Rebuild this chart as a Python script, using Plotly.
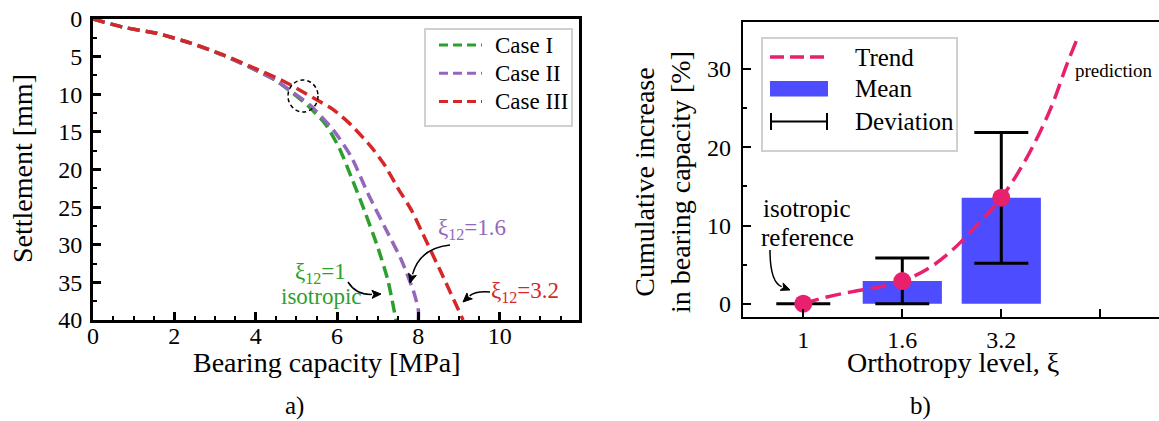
import plotly.graph_objects as go
import math

# ---------------- data ----------------
# (a) settlement curves
case1_bearing = [0, 0.75, 1.57, 2.4, 3.22, 4.04, 4.5, 4.88, 5.28, 5.72, 6.06, 6.35, 6.67, 7.0, 7.25, 7.45]
case1_settle = [0, 1.1, 1.9, 3.2, 4.85, 6.9, 8.2, 9.7, 11.5, 14.0, 17.2, 21.0, 25.4, 30.3, 34.7, 40.0]

case2_bearing = [0, 0.75, 1.57, 2.4, 3.22, 4.04, 4.5, 4.9, 5.35, 5.9, 6.35, 6.76, 7.17, 7.58, 7.9, 8.0, 8.0]
case2_settle = [0, 1.1, 1.9, 3.2, 4.85, 6.9, 8.2, 9.7, 11.5, 14.7, 18.3, 23.2, 27.6, 32.0, 36.5, 38.7, 40.0]

case3_bearing = [0, 0.75, 1.57, 2.4, 3.22, 4.04, 4.7, 5.1, 5.52, 5.9, 6.35, 6.84, 7.17, 7.5, 7.83, 8.07, 8.57, 9.1]
case3_settle = [0, 1.1, 1.9, 3.2, 4.8, 6.7, 8.3, 9.5, 10.8, 12.0, 14.1, 17.0, 19.4, 22.5, 25.4, 28.1, 33.8, 40.0]

case_names = ["Case I", "Case II", "Case III"]

# (b) orthotropy levels
levels = ["1", "1.6", "3.2"]
level_pos = [0, 1, 2]
mean_increase = [0.0, 2.9, 13.56]
dev_low = [0.0, 0.0, 5.16]
dev_high = [0.0, 5.84, 21.9]

trend_pos = [0, 0.25, 0.5, 0.75, 1.0, 1.25, 1.5, 1.75, 2.0, 2.25, 2.5, 2.66, 2.78]
trend_val = [0, 0.9, 1.55, 2.1, 2.9, 4.4, 6.8, 10.0, 13.56, 18.5, 25.0, 30.5, 34.3]

x_ticks_b = [0, 1, 2, 3]
x_ticktext_b = levels + [""]
legend_b = ["Trend", "Mean", "Deviation"]

# ---------------- styling ----------------
W, H = 1159, 421
FONT = "Liberation Serif, Times New Roman, serif"
GREEN, PURPLE, RED = "#2ca02c", "#9467bd", "#d62728"
PINK = "#e8206e"
BLUE = "#4d4dff"
CASE_DASH = "12px,6px"
TREND_DASH = "16px,7px"


def px(x):
    return x / W


def py(y):
    return 1 - y / H


fig = go.Figure()

case_colors = [GREEN, PURPLE, RED]
for name, xs, ys, col in zip(case_names, [case1_bearing, case2_bearing, case3_bearing],
                             [case1_settle, case2_settle, case3_settle], case_colors):
    fig.add_trace(go.Scatter(x=xs, y=ys, mode="lines", name=name,
                             line=dict(color=col, width=3.5, dash=CASE_DASH, shape="spline", smoothing=0.6),
                             xaxis="x", yaxis="y"))

# (b) bars
fig.add_trace(go.Bar(x=level_pos, y=mean_increase, width=0.8, marker=dict(color=BLUE, line=dict(width=0)),
                     name="Mean", xaxis="x2", yaxis="y2"))
# error bars
err_plus = [h - m for h, m in zip(dev_high, mean_increase)]
err_minus = [m - l for m, l in zip(mean_increase, dev_low)]
fig.add_trace(go.Scatter(x=level_pos, y=mean_increase, mode="markers", marker=dict(size=1, opacity=0),
                         error_y=dict(type="data", symmetric=False, array=err_plus, arrayminus=err_minus,
                                      color="black", thickness=3, width=27),
                         name="Deviation", xaxis="x2", yaxis="y2", hoverinfo="skip"))
# trend
fig.add_trace(go.Scatter(x=trend_pos, y=trend_val, mode="lines", name="Trend",
                         line=dict(color=PINK, width=3.5, dash=TREND_DASH, shape="spline"),
                         xaxis="x2", yaxis="y2"))
fig.add_trace(go.Scatter(x=level_pos, y=mean_increase, mode="markers", marker=dict(color=PINK, size=18),
                         name="Mean value", xaxis="x2", yaxis="y2"))

tickfont = dict(family=FONT, size=24, color="black")

fig.update_layout(
    width=W, height=H,
    margin=dict(l=0, r=0, t=0, b=0, autoexpand=False),
    paper_bgcolor="white", plot_bgcolor="white",
    font=dict(family=FONT, color="black"),
    showlegend=False,
    xaxis=dict(domain=[px(93), px(579)], anchor="y", range=[0, 11.95], dtick=2, tick0=0,
               showline=True, linewidth=3, linecolor="black", mirror=True, automargin=False,
               ticks="inside", ticklen=8, tickwidth=2.5, tickcolor="black", ticklabelstandoff=-8,
               minor=dict(dtick=0.5, ticks="inside", ticklen=4, tickwidth=2, tickcolor="black"),
               showgrid=False, zeroline=False, tickfont=tickfont),
    yaxis=dict(domain=[py(320), py(19)], anchor="x", range=[40, 0], dtick=5, tick0=0,
               showline=True, linewidth=3, linecolor="black", mirror=True, automargin=False,
               ticks="inside", ticklen=8, tickwidth=2.5, tickcolor="black", ticklabelstandoff=3,
               minor=dict(dtick=2.5, ticks="inside", ticklen=4, tickwidth=2, tickcolor="black"),
               showgrid=False, zeroline=False, tickfont=tickfont),
    xaxis2=dict(domain=[px(742.7), 1.0], anchor="y2", range=[-0.612, 3.593],
                tickvals=x_ticks_b, ticktext=x_ticktext_b, automargin=False,
                showline=True, linewidth=2, linecolor="black", mirror=True,
                ticks="inside", ticklen=8, tickwidth=2, tickcolor="black", ticklabelstandoff=0,
                showgrid=False, zeroline=False, tickfont=tickfont),
    yaxis2=dict(domain=[py(316.7), py(21.7)], anchor="x2", range=[-1.66, 36.06],
                tickvals=[0, 10, 20, 30], automargin=False,
                showline=True, linewidth=2, linecolor="black", mirror=False,
                ticks="inside", ticklen=8, tickwidth=2, tickcolor="black", ticklabelstandoff=5,
                minor=dict(tickvals=[5, 15, 25], ticks="inside", ticklen=4, tickwidth=1.5, tickcolor="black"),
                showgrid=False, zeroline=False, tickfont=tickfont),
)

annotations = []
shapes = []


def text(x, y, s, size, color="black", angle=0, xanchor="center"):
    annotations.append(dict(x=px(x), y=py(y), xref="paper", yref="paper", text=s, showarrow=False,
                            font=dict(family=FONT, size=size, color=color), textangle=angle,
                            xanchor=xanchor, yanchor="middle"))


def seg(x0, y0, x1, y1, color, width, dash="solid"):
    shapes.append(dict(type="line", xref="paper", yref="paper", x0=px(x0), y0=py(y0), x1=px(x1), y1=py(y1),
                       line=dict(color=color, width=width, dash=dash)))


def curved_arrow(x0, y0, cx, cy, x1, y1):
    dx, dy = x1 - cx, y1 - cy
    n = math.hypot(dx, dy)
    ux, uy = dx / n, dy / n
    bx, by = x1 - 9 * ux, y1 - 9 * uy
    shapes.append(dict(type="path", xref="paper", yref="paper",
                       path=f"M {px(x0)},{py(y0)} Q {px(cx)},{py(cy)} {px(bx)},{py(by)}",
                       line=dict(color="black", width=1.5)))
    nx, ny = -uy, ux
    p1 = (bx + 4 * nx, by + 4 * ny)
    p2 = (bx - 4 * nx, by - 4 * ny)
    shapes.append(dict(type="path", xref="paper", yref="paper",
                       path=f"M {px(x1)},{py(y1)} L {px(p1[0])},{py(p1[1])} "
                            f"L {px(bx + 2 * ux)},{py(by + 2 * uy)} L {px(p2[0])},{py(p2[1])} Z",
                       fillcolor="black", line=dict(color="black", width=1)))


# ---- legend (a) ----
shapes.append(dict(type="rect", xref="paper", yref="paper", x0=px(425), x1=px(572), y0=py(126), y1=py(29),
                   line=dict(color="#d0d0d0", width=2), fillcolor="white", layer="above"))
for i, (name, col) in enumerate(zip(case_names, case_colors)):
    yy = 45 + i * 28.3
    seg(439, yy, 482, yy, col, 3, "9px,5px")
    text(493, yy, name, 23, xanchor="left")

# ---- legend (b) ----
shapes.append(dict(type="rect", xref="paper", yref="paper", x0=px(762), x1=px(957), y0=py(151), y1=py(38),
                   line=dict(color="#d0d0d0", width=2), fillcolor="white", layer="above"))
seg(770, 57, 828, 57, PINK, 3.5, "14px,6px")
shapes.append(dict(type="rect", xref="paper", yref="paper", x0=px(770), x1=px(828), y0=py(96.5), y1=py(81),
                   line=dict(width=0), fillcolor=BLUE, layer="above"))
seg(771, 121.5, 827, 121.5, "black", 2)
seg(771, 113, 771, 130, "black", 2)
seg(827, 113, 827, 130, "black", 2)
for yy, name in zip([57, 88.5, 121.5], legend_b):
    text(853, yy, name, 25, xanchor="left")

# axis titles and panel labels
text(327, 362, "Bearing capacity [MPa]", 28)
text(22, 169, "Settlement [mm]", 28, angle=-90)
text(294, 406, "a)", 25)
text(953, 362, "Orthotropy level, ξ", 28)
text(662, 182, "Cumulative increase<br>in bearing capacity [%]", 28, angle=-90)
text(920, 406, "b)", 25)

# panel (a) annotations
text(320, 273, "ξ<sub>12</sub>=1", 23, GREEN)
text(321, 296, "isotropic", 23, GREEN)
text(472, 229, "ξ<sub>12</sub>=1.6", 23, PURPLE)
text(525, 292, "ξ<sub>12</sub>=3.2", 23, RED)
curved_arrow(348, 282, 356, 295, 381, 294)
curved_arrow(450, 245, 420, 248, 410, 283)
curved_arrow(490, 292, 475, 291, 463, 302)

shapes.append(dict(type="circle", xref="paper", yref="paper",
                   x0=px(303 - 15), x1=px(303 + 15), y0=py(96 + 16), y1=py(96 - 16),
                   line=dict(color="black", width=1.5, dash="4px,3px")))

# panel (b) annotations
text(807, 208, "isotropic", 25)
text(807, 237, "reference", 25)
curved_arrow(770, 250, 770, 282, 790, 290)
text(1073, 70, "prediction", 19, xanchor="left")

fig.update_layout(annotations=annotations, shapes=shapes)
fig.write_html("out.html", config={"displayModeBar": False},
               post_script="document.body.style.margin='0';document.body.style.padding='0';")
